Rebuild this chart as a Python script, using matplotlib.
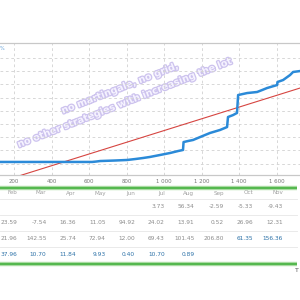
import matplotlib
matplotlib.use("Agg")
import matplotlib.pyplot as plt
import matplotlib.patheffects as pe

# ---- chart data ----
trades = [125, 445, 616, 637, 659, 739, 803, 845, 888, 925, 979, 1032, 1075, 1101,
          1104, 1128, 1155, 1192, 1245, 1299, 1336, 1341, 1368, 1389, 1395, 1443,
          1496, 1523, 1549, 1603, 1605, 1635, 1672, 1688, 1725]
growth = [12, 12, 12, 15, 19, 23, 27, 34, 42, 50, 65, 80, 95, 103,
          163, 171, 179, 201, 232, 255, 277, 353, 368, 384, 520, 535,
          543, 558, 573, 596, 619, 634, 672, 695, 702]
trend_x = [125, 1725]
trend_y = [-139, 573]
x_ticks = [200, 400, 600, 800, 1000, 1200, 1400, 1600]
x_tick_labels = ["200", "400", "600", "800", "1 000", "1 200", "1 400", "1 600"]

# ---- table data ----
months = ["Feb", "Mar", "Apr", "May", "Jun", "Jul", "Aug", "Sep", "Oct", "Nov"]
row1 = [None, None, None, None, None, "3.73", "56.34", "-2.59", "-5.33", "-9.43"]
row2 = ["23.59", "-7.54", "16.36", "11.05", "94.92", "24.02", "13.91", "0.52", "26.96", "12.31"]
row3 = ["21.96", "142.55", "25.74", "72.94", "12.00", "69.43", "101.45", "206.80", "61.35", "156.36"]
row4 = ["37.96", "10.70", "11.84", "9.93", "0.40", "10.70", "0.89", None, None, None]
rows = [row1, row2, row3, row4]
highlight = {(2, 8), (2, 9), (3, 0), (3, 1), (3, 2), (3, 3), (3, 4), (3, 5), (3, 6)}

watermark1 = "no martingale, no grid,"
watermark2 = "no other strategies with increasing the lot"

fig = plt.figure(figsize=(3, 3), dpi=100)
fig.patch.set_facecolor("white")

# background/pixel-layout axes
bg = fig.add_axes([0, 0, 1, 1])
bg.set_xlim(0, 300)
bg.set_ylim(300, 0)
bg.axis("off")

# chart axes
ax = fig.add_axes([0, (300 - 175) / 300, 1, 132 / 300])
ax.set_xlim(125, 1725)
ax.set_ylim(-87, 915)
ax.set_facecolor("none")
for s in ["left", "right"]:
    ax.spines[s].set_visible(False)
ax.spines["top"].set_color("#c8c8c8")
ax.spines["bottom"].set_color("#c8c8c8")
ax.spines["top"].set_linewidth(0.9)
ax.spines["bottom"].set_linewidth(0.9)
ax.set_xticks(x_ticks)
ax.set_xticklabels(x_tick_labels)
ax.set_yticks(range(0, 900, 100))
ax.tick_params(axis="x", length=0, labelsize=3.9, labelcolor="#777777", pad=3)
ax.tick_params(axis="y", length=0, labelleft=False)
ax.grid(True, color="#d4d4d4", linewidth=0.65, linestyle=(0, (3, 3)))

ax.plot(trend_x, trend_y, color="#d64541", linewidth=0.8, zorder=3)
ax.plot(trades, growth, color="#2b8ad8", linewidth=1.8, zorder=4,
        solid_joinstyle="round")

# y-unit mark
bg.text(0, 48, "%", fontsize=3.5, color="#5b9bd5", ha="left", va="center")

# watermark
for txt, cx, cy in [(watermark1, 120, 88), (watermark2, 125, 102.5)]:
    bg.text(cx, cy, txt, fontsize=6.9, fontweight="bold", color="#f6f3ff",
            rotation=21.5, rotation_mode="anchor", ha="center", va="center",
            zorder=10,
            path_effects=[pe.Stroke(linewidth=1.8, foreground="#cdc3ee"), pe.Normal()])

# green borders
for yy in [188, 264]:
    bg.plot([0, 297], [yy, yy], color="#b5e0ae", linewidth=3.2, solid_capstyle="butt")
    bg.plot([0, 297], [yy, yy], color="#55b84f", linewidth=1.6, solid_capstyle="butt")

# row separators
for yy in [199, 215, 231, 247]:
    bg.plot([0, 297], [yy, yy], color="#e6e6e6", linewidth=0.6)

# table text
right_edges = [17 + 29.55 * i for i in range(len(months))]
for i, m in enumerate(months):
    bg.text(right_edges[i], 193, m, fontsize=4.1, color="#a0a0a0",
            ha="right", va="center")
for r, row in enumerate(rows):
    for i, v in enumerate(row):
        if v is None:
            continue
        col = "#2d72a8" if (r, i) in highlight else "#8c8c8c"
        bg.text(right_edges[i], 207 + 16 * r, v, fontsize=4.2, color=col,
                ha="right", va="center")

bg.text(295, 270, "T", fontsize=4.5, color="#555555", ha="left", va="center")

fig.savefig("out.png", dpi=100)
